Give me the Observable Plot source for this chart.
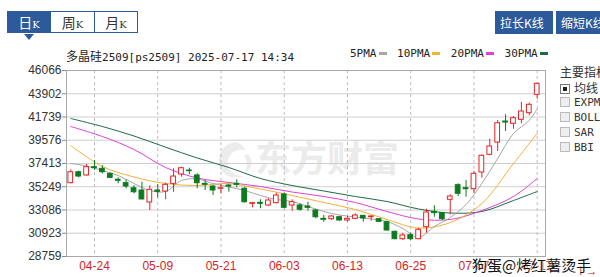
<!DOCTYPE html>
<html><head><meta charset="utf-8">
<script src="https://cdn.jsdelivr.net/npm/d3@7"></script>
<script src="https://cdn.jsdelivr.net/npm/@observablehq/plot@0.6"></script>
<style>
html,body{margin:0;padding:0;background:#fff;}
body{width:600px;height:277px;overflow:hidden;position:relative;font-family:"DejaVu Sans Mono","Noto Sans CJK SC",monospace;}
.abs{position:absolute;white-space:nowrap;}
#chart{position:absolute;left:0;top:0;z-index:2;}
#wm{position:absolute;left:255px;top:138px;font-family:"Noto Sans CJK SC";font-weight:700;font-size:36px;line-height:36px;color:#ebebeb;z-index:1;letter-spacing:0px;}
#logo{position:absolute;left:214px;top:140px;z-index:1;}
.tab{position:absolute;top:11px;height:22px;box-sizing:border-box;border:1px solid #2d5a9a;font-size:10px;line-height:20px;text-align:center;color:#333;background:#fff;font-family:"DejaVu Serif","Noto Sans CJK SC",serif;}
.tab .c{font-family:"Noto Sans CJK SC";font-size:14px;}
.tab.sel{background:#2d5a9a;color:#fff;}
.btn{position:absolute;top:11px;height:23px;background:#2d5a9a;color:#fff;font-family:"Noto Sans CJK SC";font-size:12px;line-height:23px;padding:0 5px;box-sizing:border-box;}
#tri{position:absolute;left:24px;top:34px;width:0;height:0;border-left:5px solid transparent;border-right:5px solid transparent;border-top:6px solid #2d5a9a;}
#title{left:66px;top:47px;font-size:11px;color:#222;}
#title .c{font-family:"Noto Sans CJK SC";font-size:12px;}
#legend{left:350px;top:47px;font-size:11px;color:#222;}
.sw{display:inline-block;width:8px;height:3px;vertical-align:middle;margin:0 4px 2px 2px;}
#panel{left:560px;top:63px;font-size:11px;color:#333;}
#panel .c{font-family:"Noto Sans CJK SC";font-size:12px;}
.cb{display:inline-block;width:8px;height:8px;border:1px solid #bbb;background:#eee;margin-right:4px;vertical-align:-1px;}
.cb.on{background:#fff;border-color:#777;}
.cb.on::after{content:"";display:block;width:4px;height:4px;margin:2px;background:#222;}
#sig{left:472px;top:256px;font-family:"Noto Sans CJK SC";font-size:15px;line-height:18px;color:#111;z-index:3;text-shadow:0 0 2px #fff,0 0 2px #fff;}
</style></head><body>
<svg id="logo" width="44" height="40" viewBox="0 0 44 40"><path d="M22 2 C8 4 2 16 6 28 C9 36 20 40 30 36 C18 36 12 28 14 20 C16 12 24 8 32 10 C28 5 26 3 22 2 Z" fill="#ececec"/><path d="M34 14 C40 20 38 30 30 34 C34 28 34 20 30 16 Z" fill="#ececec"/></svg>
<div id="wm">东方财富</div>
<div id="chart"></div>
<div class="tab sel" style="left:7px;width:44px;"><span class="c">日</span>K</div>
<div class="tab" style="left:50px;width:45px;"><span class="c">周</span>K</div>
<div class="tab" style="left:94px;width:44px;"><span class="c">月</span>K</div>
<div id="tri"></div>
<div class="btn" style="left:495px;width:58px;">拉长K线</div>
<div class="btn" style="left:556px;width:60px;">缩短K线</div>
<div id="title" class="abs"><span class="c">多晶硅</span>2509[ps2509] 2025-07-17 14:34</div>
<div id="legend" class="abs"></div>
<div id="panel" class="abs"></div>
<div id="sig" class="abs">狗蛋@烤红薯烫手</div>
<script>
// ---- data ----
const dates = ["04-21","04-22","04-23","04-24","04-25","04-28","04-29","04-30",
"05-06","05-07","05-08","05-09","05-12","05-13","05-14","05-15","05-16","05-19","05-20","05-21","05-22","05-23","05-26","05-27","05-28","05-29","05-30",
"06-03","06-04","06-05","06-06","06-09","06-10","06-11","06-12","06-13","06-16","06-17","06-18","06-19","06-20","06-23","06-24","06-25","06-26","06-27","06-30",
"07-01","07-02","07-03","07-04","07-07","07-08","07-09","07-10","07-11","07-14","07-15","07-16","07-17"];
const open  = [35580,36600,36300,37070,36920,36450,35900,35580,35110,34900,33785,34900,34805,35520,36390,36760,36300,35520,35270,35060,35365,35520,35060,33660,33755,33505,33720,34530,33505,33505,33410,33040,32265,32230,32415,32110,32265,32545,32415,32230,31950,31055,30370,30740,30370,31485,32920,32790,34035,35395,35115,35020,36575,38220,39365,41320,41105,41480,42095,43805];
const high  = [36825,36700,37320,37690,37200,36510,36080,35900,35365,35670,35340,35460,35580,36920,37070,36975,36450,35830,35365,35460,35460,35900,35210,33810,34035,34130,34650,34650,34035,33660,33810,33160,32575,32575,32510,32480,32730,32575,32545,32265,32045,31115,30925,30925,31390,33160,33475,32855,34500,35525,35830,36670,38220,39675,41415,41945,41785,43090,43025,44885];
const low   = [35520,36080,36230,36760,36450,36040,35520,35060,34590,34035,33040,34220,34035,34740,36140,36360,35060,34900,34435,34590,34740,35150,33720,33290,33200,33410,33660,33200,32975,32975,32975,32265,31950,32110,32045,31950,32175,31950,32045,31920,31110,30310,30245,30245,30310,30925,32415,32110,32640,34340,34275,34650,36045,38130,38530,40390,40605,41105,41850,43395];
const close = [36600,36200,37070,36975,36600,36080,35800,35270,34740,34065,34965,34780,35430,36200,36975,36700,35580,35430,34900,35110,35270,35430,33810,33720,33660,33970,34435,33290,33810,33105,33290,32415,32175,32480,32110,32265,32575,32295,32480,31985,31180,30370,30715,30370,31245,32855,32790,32230,34340,34595,35020,36455,38130,38995,41160,41225,41630,42250,42875,44830];
const yTicks = [28759,30923,33086,35249,37413,39576,41739,43902,46066];
const xTickLabels = ["04-24","05-09","05-21","06-03","06-13","06-25","07-07","07-17"];
const maIdx = [0,4,8,12,16,20,24,28,32,36,40,44,48,52,56,59];
const ma10 = [39085,37135,36155,35550,35365,35550,35040,34435,33785,33130,32200,31410,31920,33690,37410,40205];
const ma20 = [40855,39925,38715,37040,36065,35645,35270,34760,34340,33785,32945,32250,32200,33040,34340,36015];
const ma30 = [41600,40855,39970,38930,37925,37040,36015,35365,34855,34340,33875,33180,32805,32945,33970,34805];
const ma5Idx = [0,2,4,6,8,10,12,14,16,18,20,22,24,26,28,30,32,34,36,38,40,42,44,46,48,50,52,54,56,58,59];
const ma5 = [37410,37180,36760,36295,35550,34900,34805,35830,35970,35550,35225,34900,34435,34065,33875,33410,32945,32620,32435,32250,32015,31365,30530,31550,32390,33595,35550,37880,40205,41415,42500];
const legendNames = ["5PMA","10PMA","20PMA","30PMA"];
const legendColors = ["#a6a6a6","#f2b03a","#e040d8","#1f6b45"];
const panelItems = ["均线","EXPMA","BOLL","SAR","BBI"];

// ---- build ----
const RED = "#e62222", GREEN = "#0d7a1f";
const candles = dates.map((d,i)=>({i, date:d, open:open[i], high:high[i], low:low[i], close:close[i], up: close[i] >= open[i]}));
const xTickIdx = xTickLabels.map(l => dates.indexOf(l));
const pts = (idx, vals) => idx.map((i,k)=>({i, v: vals[k]}));

const chart = Plot.plot({
  width: 600, height: 277,
  marginTop: 70, marginBottom: 21, marginLeft: 66, marginRight: 55,
  x: {domain: [-0.54, 60.05], axis: null},
  y: {domain: [yTicks[0], yTicks[yTicks.length-1]], axis: null},
  color: {type: "identity"},
  style: {background: "transparent", fontFamily: "'Liberation Sans', Arial, sans-serif", fontSize: "12px", overflow: "visible"},
  marks: [
    Plot.ruleY(yTicks, {stroke: "#cfcfcf", strokeWidth: 1}),
    Plot.ruleX(xTickIdx, {stroke: "#bdbdbd", strokeDasharray: "3,3"}),
    Plot.line(pts(maIdx, ma30), {x: "i", y: "v", stroke: legendColors[3], strokeWidth: 1, curve: "catmull-rom"}),
    Plot.line(pts(maIdx, ma20), {x: "i", y: "v", stroke: legendColors[2], strokeWidth: 1, curve: "catmull-rom"}),
    Plot.line(pts(maIdx, ma10), {x: "i", y: "v", stroke: legendColors[1], strokeWidth: 1, curve: "catmull-rom"}),
    Plot.line(pts(ma5Idx, ma5), {x: "i", y: "v", stroke: legendColors[0], strokeWidth: 1, curve: "catmull-rom"}),
    Plot.ruleX(candles, {x: "i", y1: "low", y2: "high", stroke: d => d.up ? RED : GREEN, strokeWidth: 1}),
    Plot.rect(candles, {x1: d => d.i - 0.3, x2: d => d.i + 0.3, y1: "open", y2: "close",
      fill: d => d.up ? "#ffffff" : GREEN, stroke: d => d.up ? RED : GREEN, strokeWidth: 1}),
    Plot.frame({stroke: "#a8a8a8"}),
    Plot.axisY(yTicks, {tickSize: 4, tickPadding: 1, tickFormat: d => String(d), stroke: "#888", fill: "#333", fontSize: 12}),
    Plot.axisX(xTickIdx, {tickSize: 0, tickPadding: 5, tickFormat: i => dates[i], fill: "#d42424", fontSize: 12})
  ]
});
document.getElementById("chart").appendChild(chart);

document.getElementById("legend").innerHTML = legendNames.map((n,k)=>`${n}<span class="sw" style="background:${legendColors[k]}"></span>`).join(" ");
document.getElementById("panel").innerHTML = `<div class="c" style="height:17px">主要指标</div>` +
  panelItems.map((n,k)=>`<div style="height:15px;line-height:15px"><span class="cb${k===0?' on':''}"></span><span class="${k===0?'c':''}">${n}</span></div>`).join("");
</script>
</body></html>
